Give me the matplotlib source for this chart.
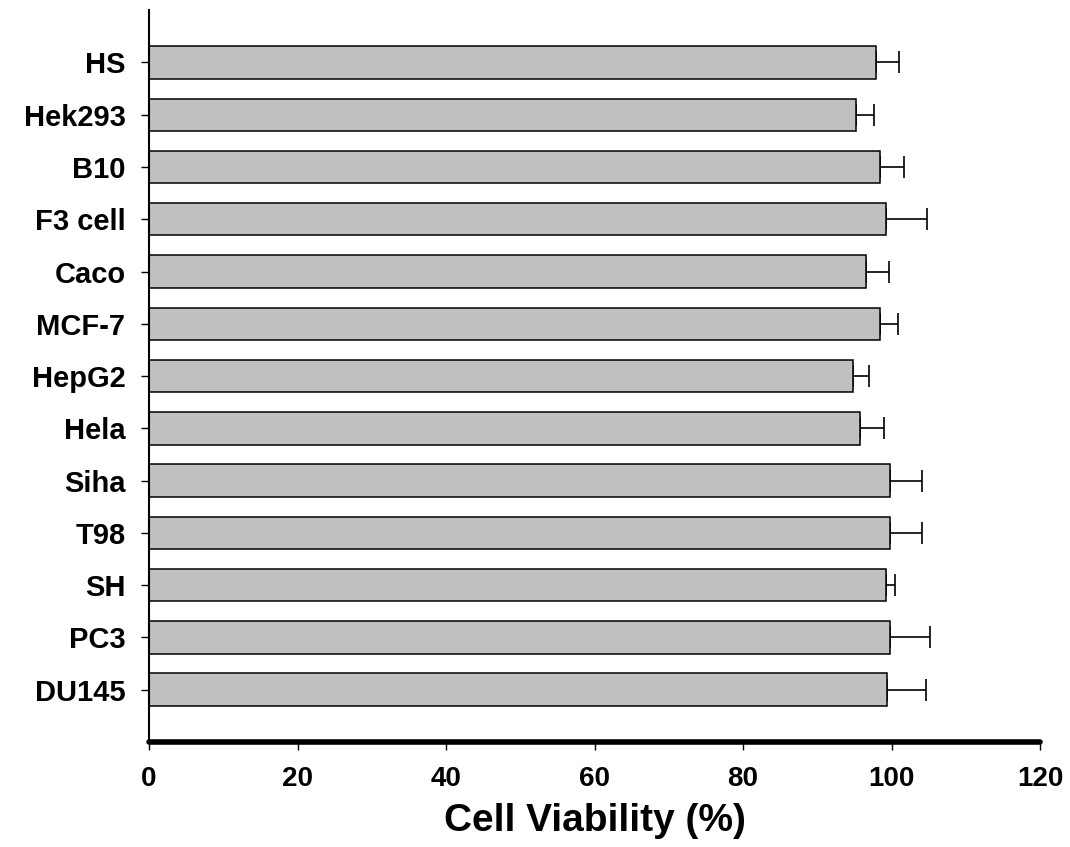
import numpy as np
import matplotlib
matplotlib.use("Agg")
import matplotlib.pyplot as plt

plt.rcParams['font.family'] = ['Liberation Sans', 'DejaVu Sans']
plt.rcParams['font.weight'] = 'bold'

cells = ["HS", "Hek293", "B10", "F3 cell", "Caco", "MCF-7", "HepG2",
         "Hela", "Siha", "T98", "SH", "PC3", "DU145"]
viability = [97.9, 95.2, 98.4, 99.2, 96.6, 98.4, 94.8,
             95.8, 99.8, 99.8, 99.2, 99.8, 99.4]
errors = [3.1, 2.4, 3.3, 5.6, 3.0, 2.5, 2.2,
          3.2, 4.3, 4.3, 1.3, 5.4, 5.3]

fig = plt.figure(figsize=(10.7, 8.47), dpi=100)
ax = fig.add_axes([0.1393, 0.124, 0.8327, 0.864])

ypos = np.arange(len(cells))[::-1]
ax.barh(ypos, viability, height=0.62, color='#c0c0c0', edgecolor='black',
        linewidth=1.1, zorder=2)
ax.errorbar(viability, ypos, xerr=[np.zeros(len(errors)), errors],
            fmt='none', ecolor='black', elinewidth=1.2, capsize=8, capthick=1.2,
            zorder=1)

ax.set_xlim(0, 120)
ax.set_ylim(-1, 13)
ax.set_xticks([0, 20, 40, 60, 80, 100, 120])
ax.set_yticks(ypos)
ax.set_yticklabels(cells)

ax.spines['top'].set_visible(False)
ax.spines['right'].set_visible(False)
ax.spines['left'].set_linewidth(1.5)
ax.spines['bottom'].set_linewidth(4)
ax.spines['bottom'].set_capstyle('round')

ax.tick_params(axis='y', length=6, width=1, pad=11, labelsize=21)
ax.tick_params(axis='x', length=6, width=1, pad=11, labelsize=20)
for lab in ax.get_xticklabels() + ax.get_yticklabels():
    lab.set_fontweight('bold')

ax.set_xlabel("Cell Viability (%)", fontsize=28, fontweight='bold', labelpad=8)

fig.savefig("out.png", dpi=100)
